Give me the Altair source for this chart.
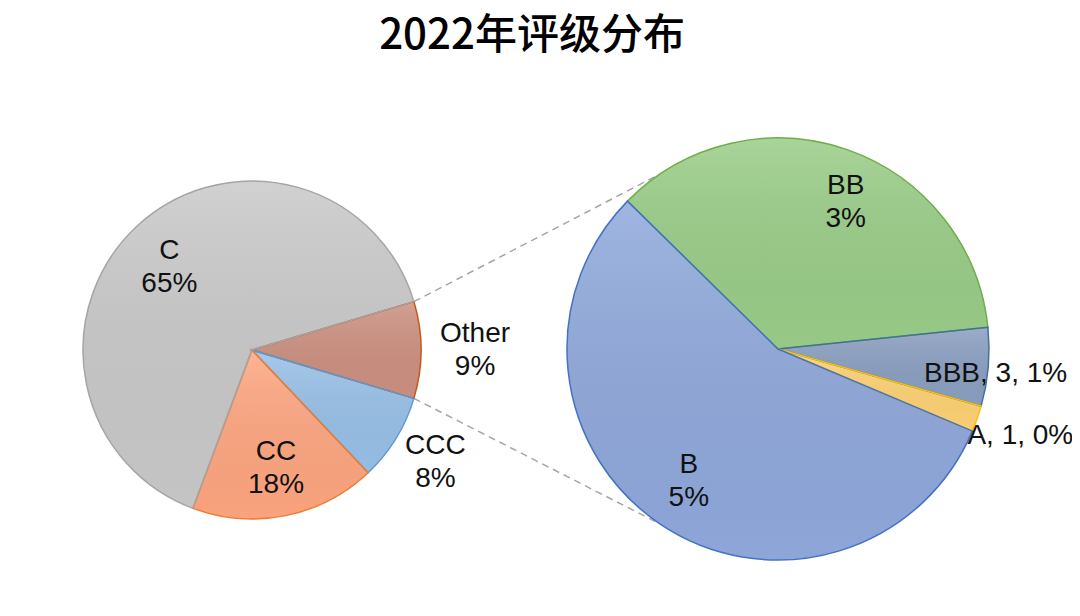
import math
import altair as alt
import pandas as pd

# ---------------- data ----------------
TITLE = "2022年评级分布"

main_categories = ["Other", "CCC", "CC", "C"]
main_counts = [50, 45, 96, 350]

sub_categories = ["BB", "BBB", "A", "B"]
sub_counts = [18, 3, 1, 28]
sub_label_style = ["inside", "outside", "outside", "inside"]

fill_colors = {
    "C": "#c9c9c9", "CC": "#ffa680", "CCC": "#98c0e8", "Other": "#cd9080",
    "BB": "#9acd88", "BBB": "#8a9fc1", "A": "#ffd274", "B": "#90a9dc",
}
stroke_colors = {
    "C": "#a5a5a5", "CC": "#ed7d31", "CCC": "#5b9bd5", "Other": "#c0581b",
    "BB": "#70ad47", "BBB": "#41719c", "A": "#ffc000", "B": "#4472c4",
}

total = sum(main_counts)
main_pct = [round(v * 100 / total) for v in main_counts]
sub_pct = [round(v * 100 / total) for v in sub_counts]
main_labels = [f"{c}\n{p}%" for c, p in zip(main_categories, main_pct)]
sub_labels = [
    f"{c}\n{p}%" if s == "inside" else f"{c}, {n}, {p}%"
    for c, n, p, s in zip(sub_categories, sub_counts, sub_pct, sub_label_style)
]

main_df = pd.DataFrame({"cat": main_categories, "value": main_counts,
                        "label": main_labels, "ord": range(len(main_categories))})
sub_df = pd.DataFrame({"cat": sub_categories, "value": sub_counts,
                       "label": sub_labels, "ord": range(len(sub_categories))})

# ---------------- layout ----------------
W, H, PAD_TOP = 1064, 540, 60
L_CX, L_CY, L_R = 244, 282, 169
R_CX, R_CY, R_R = 770, 281, 211
SUB_START_DEG = 314.5
CONNECT_HALF_DEG = 56
FONT = "Liberation Sans"
LABEL_SIZE = 28
LINE_H = 33

# label placement: (radius factor, dx, dy)
left_label_pos = {"Other": (1.32, 0, 0), "CCC": (1.274, 0, 0),
                  "CC": (0.714, 0, 0), "C": (0.69, -3, 3)}
right_label_pos = {"BB": (0.77, 14, 7), "BBB": (1.035, 0, 6),
                   "A": (1.217, 0, 2), "B": (0.762, 0, -1)}

all_cats = main_categories + sub_categories
fill_scale = alt.Scale(domain=all_cats, range=[fill_colors[c] for c in all_cats])
stroke_scale = alt.Scale(domain=all_cats, range=[stroke_colors[c] for c in all_cats])

shade = alt.LinearGradient(
    gradient="linear", x1=0, y1=0, x2=0, y2=1,
    stops=[alt.GradientStop(offset=0, color="rgba(255,255,255,0.15)"),
           alt.GradientStop(offset=1, color="rgba(0,0,0,0.02)")])

other_share = main_counts[0] / total
left_start = math.pi / 2 - other_share * math.pi
left_theta = alt.Scale(domain=[0, total], range=[left_start, left_start + 2 * math.pi])
sub_total = sum(sub_counts)
right_start = math.radians(SUB_START_DEG)
right_theta = alt.Scale(domain=[0, sub_total], range=[right_start, right_start + 2 * math.pi])


def stacked(df):
    return (alt.Chart(df)
            .transform_stack(stack="value", groupby=[], as_=["s", "e"],
                             sort=[alt.SortField("ord")])
            .transform_calculate(mid="(datum.s + datum.e) / 2"))


def arcs(df, cx, cy, r, scale):
    pos = dict(x=alt.value(cx), y=alt.value(cy),
               theta=alt.Theta("s:Q", scale=scale, stack=False), theta2="e:Q")
    base = stacked(df)
    body = base.mark_arc(radius=r, strokeWidth=0).encode(
        fill=alt.Fill("cat:N", scale=fill_scale, legend=None), **pos)
    gloss = base.mark_arc(radius=r, fill=shade, strokeWidth=0).encode(**pos)
    edge = base.mark_arc(radius=r, fillOpacity=0, strokeWidth=1.5).encode(
        stroke=alt.Stroke("cat:N", scale=stroke_scale, legend=None), **pos)
    return [body, gloss, edge]


def labels(df, cx, cy, r, scale, posmap):
    layers = []
    for cat, (f, dx, dy) in posmap.items():
        lab = df.loc[df["cat"] == cat, "label"].iloc[0]
        nlines = lab.count("\n") + 1
        layers.append(
            stacked(df).transform_filter(alt.datum.cat == cat)
            .mark_text(radius=r * f, font=FONT, fontSize=LABEL_SIZE, lineBreak="\n",
                       lineHeight=LINE_H, align="center", baseline="middle",
                       color="#111111", dx=dx, dy=dy - (nlines - 1) * LINE_H / 2)
            .encode(x=alt.value(cx), y=alt.value(cy),
                    theta=alt.Theta("mid:Q", scale=scale),
                    text="label:N")
        )
    return layers


# connector lines: from the edges of the "Other" slice to the secondary pie
a1 = left_start
a2 = left_start + other_share * 2 * math.pi
p1 = (L_CX + L_R * math.sin(a1), L_CY - L_R * math.cos(a1))
p2 = (L_CX + L_R * math.sin(a2), L_CY - L_R * math.cos(a2))
b1 = math.radians(270 + CONNECT_HALF_DEG)
b2 = math.radians(270 - CONNECT_HALF_DEG)
q1 = (R_CX + R_R * math.sin(b1), R_CY - R_R * math.cos(b1))
q2 = (R_CX + R_R * math.sin(b2), R_CY - R_R * math.cos(b2))

anchor = pd.DataFrame({"k": [0]})


def connector(p, q):
    return alt.Chart(anchor).mark_rule(strokeDash=[7, 5], color="#a6a6a6", strokeWidth=1.5).encode(
        x=alt.value(p[0]), y=alt.value(p[1]), x2=alt.value(q[0]), y2=alt.value(q[1]))


layers = [connector(p1, q1), connector(p2, q2),
          *arcs(main_df, L_CX, L_CY, L_R, left_theta),
          *labels(main_df, L_CX, L_CY, L_R, left_theta, left_label_pos),
          *arcs(sub_df, R_CX, R_CY, R_R, right_theta),
          *labels(sub_df, R_CX, R_CY, R_R, right_theta, right_label_pos)]

chart = (alt.layer(*layers)
         .resolve_scale(theta="independent")
         .properties(width=W, height=H,
                     title=alt.Title(TITLE, fontSize=42, font="Noto Sans CJK SC",
                                     fontWeight=500, anchor="middle", color="#000000",
                                     offset=10, dx=-8),
                     autosize=alt.AutoSizeParams(type="none"),
                     padding={"left": 0, "top": PAD_TOP, "right": 0, "bottom": 0})
         .configure_view(stroke=None))

chart.save("out.html", embed_options={"renderer": "svg", "actions": False})
